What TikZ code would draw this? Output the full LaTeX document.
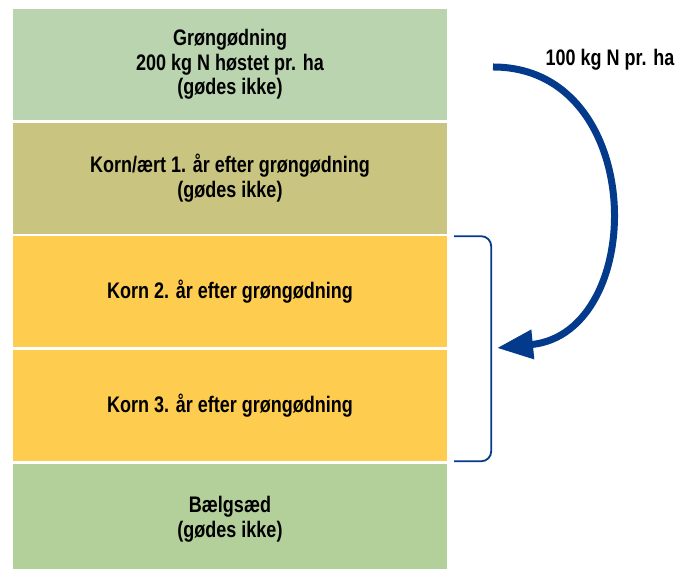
\documentclass[tikz,border=0pt]{standalone}
\usepackage{fontspec}
\setmainfont[FakeStretch=0.8, BoldFont={Liberation Sans Bold}, BoldFeatures={FakeStretch=0.8}]{Liberation Sans}
\usetikzlibrary{arrows.meta,positioning,calc}
\definecolor{gmGreen}{HTML}{BAD4AF}
\definecolor{gmOlive}{HTML}{C9C47F}
\definecolor{gmYellow}{HTML}{FECD50}
\definecolor{gmPea}{HTML}{B3CF9A}
\definecolor{gmBlue}{HTML}{033A8B}
\tikzset{
  crop/.style={draw=none, minimum width=434pt, minimum height=111pt, inner sep=0pt, align=center, font=\bfseries\fontsize{22.5}{24.5}\selectfont},
  cropG/.style={crop, fill=gmGreen},
  cropO/.style={crop, fill=gmOlive},
  cropY/.style={crop, fill=gmYellow},
  cropP/.style={crop, fill=gmPea},
  flow/.style={-{Triangle[length=36pt,width=28pt]}, line width=7pt, draw=gmBlue},
  brace/.style={line width=1.8pt, draw=gmBlue, rounded corners=10pt},
}

\begin{document}
\begin{tikzpicture}[x=1pt, y=1pt, node distance=2.3pt]
            \clip (0,0) rectangle (675,569);
            \node[cropG] (gm) at (230,504.5) {Grøngødning\\200 kg N høstet pr. ha\\(gødes ikke)};
            \node[cropO, below=of gm] (k1) {Korn/ært 1. år efter grøngødning\\(gødes ikke)};
            \node[cropY, below=of k1] (k2) {Korn 2. år efter grøngødning};
            \node[cropY, below=of k2] (k3) {Korn 3. år efter grøngødning};
            \node[cropP, below=of k3, anchor=north] (bs) {Bælgsæd\\(gødes ikke)};
            \node[font=\bfseries\fontsize{22.5}{24}\selectfont] (nlabel) at (610,509) {100 kg N pr. ha};
            \coordinate (src) at (493,502);
            \coordinate (dst) at (497,221);
            \draw[flow] (src) .. controls (648,502) and (648,236) .. (dst);
            \draw[brace] ($(k2.north east)+(7,0)$) -| ($(k2.east)!0.5!(k3.east)+(44,0)$) |- ($(k3.south east)+(7,0)$);
        \end{tikzpicture}
\end{document}
